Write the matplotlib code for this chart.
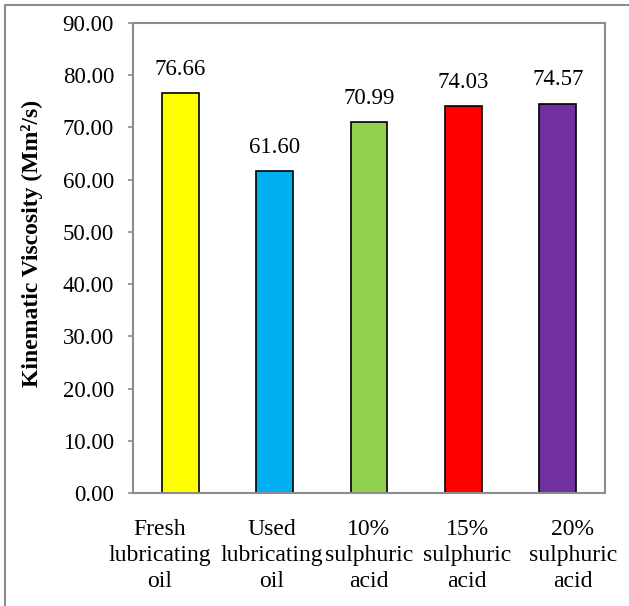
import matplotlib.pyplot as plt
from matplotlib.patches import Rectangle

# Kinematic viscosity of fresh, used and acid-treated lubricating oil
categories = ["Fresh\nlubricating\noil", "Used\nlubricating\noil",
              "10%\nsulphuric\nacid", "15%\nsulphuric\nacid", "20%\nsulphuric\nacid"]
viscosity = [76.66, 61.60, 70.99, 74.03, 74.57]
bar_colors = ["#FFFF00", "#00B0F0", "#92D050", "#FF0000", "#7030A0"]
y_ticks = [0, 10, 20, 30, 40, 50, 60, 70, 80, 90]

plt.rcParams['font.family'] = ['Liberation Serif', 'DejaVu Serif']

fig = plt.figure(figsize=(6.29, 6.06), dpi=100)
ax = fig.add_axes([0.2114, 0.1865, 0.7504, 0.7756])

# outer chart border (runs off the right and bottom edges)
fig.patches.append(Rectangle((5 / 629, -0.1), 1.2, 1 - 5 / 606 + 0.1,
                             transform=fig.transFigure, fill=False,
                             edgecolor="#8c8c8c", linewidth=1.5))

x = list(range(len(categories)))
ax.bar(x, viscosity, width=0.39, color=bar_colors, edgecolor="black", linewidth=1.2)

for xi, v in zip(x, viscosity):
    ax.annotate(f"{v:.2f}", xy=(xi, v), xytext=(0, 17), textcoords="offset points",
                ha="center", va="center", fontsize=16.5)

ax.set_xlim(-0.5, len(categories) - 0.5)
ax.set_ylim(0, 90)
ax.set_yticks(y_ticks)
ax.set_yticklabels([f"{t:.2f}" for t in y_ticks], fontsize=16.5)
ax.set_xticks([])

# category labels sit a little off-centre like the original layout
label_shift = [-0.22, -0.03, 0.0, 0.04, 0.16]
for xi, lab, dx in zip(x, categories, label_shift):
    ax.annotate(lab, xy=(xi + dx, 0), xycoords=("data", "axes fraction"),
                xytext=(0, -19), textcoords="offset points",
                ha="center", va="top", fontsize=17, linespacing=1.3)

ax.tick_params(axis="y", direction="out", length=3.6, width=1.2,
               color="#8c8c8c", pad=10)
for s in ax.spines.values():
    s.set_color("#8c8c8c")
    s.set_linewidth(1.5)

ax.set_ylabel("Kinematic Viscosity (Mm²/s)", fontsize=17, fontweight="bold",
              labelpad=6)
ax.yaxis.set_label_coords(-0.19, 0.53)

fig.savefig("out.png", dpi=100)
